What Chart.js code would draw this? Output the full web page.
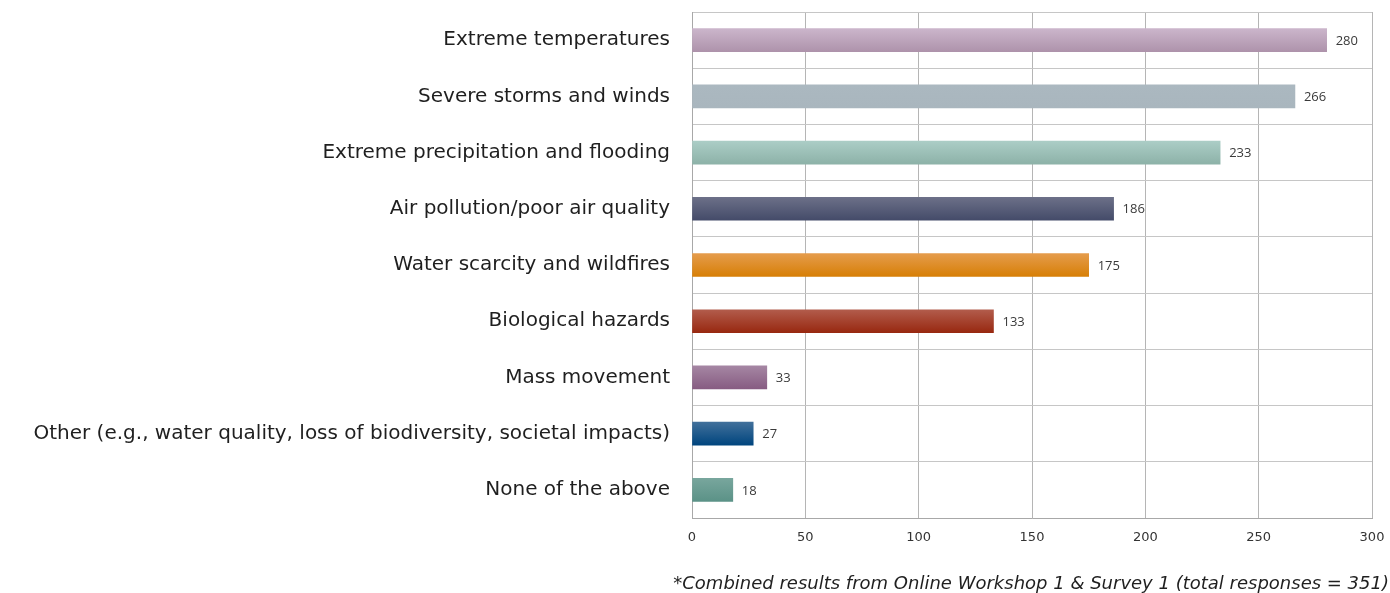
<!DOCTYPE html>
<html>
<head>
<meta charset="utf-8">
<script src="https://cdn.jsdelivr.net/npm/chart.js@4.4.1/dist/chart.umd.min.js"></script>
<style>
html,body{margin:0;padding:0;background:#fff;}
#wrap{width:1390px;height:593px;position:relative;}
</style>
</head>
<body>
<div id="wrap"><canvas id="c" width="1390" height="593"></canvas></div>
<script>
const categories = [
  "Extreme temperatures",
  "Severe storms and winds",
  "Extreme precipitation and flooding",
  "Air pollution/poor air quality",
  "Water scarcity and wildfires",
  "Biological hazards",
  "Mass movement",
  "Other (e.g., water quality, loss of biodiversity, societal impacts)",
  "None of the above"
];
const responses = [280, 266, 233, 186, 175, 133, 33, 27, 18];
const xTicks = [0, 50, 100, 150, 200, 250, 300];
const footnote = "*Combined results from Online Workshop 1 & Survey 1 (total responses = 351)";
const barTop = ["#cbb5cb","#abb8c0","#abcdc6","#6c7088","#e59c4c","#b25c4c","#a586a3","#41709b","#78a69d"];
const barBottom = ["#ae93ab","#a9b6be","#8db2a8","#444b69","#d77f06","#982810","#875c82","#00457e","#5b9287"];

const valueLabels = {
  id: 'valueLabels',
  afterDatasetsDraw(chart) {
    const ctx = chart.ctx;
    const meta = chart.getDatasetMeta(0);
    ctx.save();
    ctx.font = '13px "Open Sans"';
    ctx.fillStyle = '#3a3a3a';
    ctx.textAlign = 'left';
    ctx.textBaseline = 'middle';
    meta.data.forEach((el, i) => {
      ctx.fillText(String(responses[i]), el.x + 9, el.y + 1);
    });
    ctx.restore();
  }
};

const footnotePlugin = {
  id: 'footnote',
  afterDraw(chart) {
    const ctx = chart.ctx;
    ctx.save();
    ctx.font = 'italic 18px "DejaVu Sans"';
    ctx.fillStyle = '#1f1f1f';
    ctx.textAlign = 'right';
    ctx.textBaseline = 'alphabetic';
    ctx.fillText(footnote, chart.width - 1, chart.height - 4);
    ctx.restore();
  }
};

const chart = new Chart(document.getElementById('c'), {
  type: 'bar',
  data: {
    labels: categories,
    datasets: [{
      data: responses,
      barThickness: 23,
      borderWidth: 0,
      backgroundColor: (c) => {
        const ch = c.chart;
        const ys = ch.scales && ch.scales.y;
        if (!ys || !ch.chartArea) return barTop[c.dataIndex];
        const y = ys.getPixelForValue(c.dataIndex);
        const g = ch.ctx.createLinearGradient(0, y - 11.5, 0, y + 11.5);
        g.addColorStop(0, barTop[c.dataIndex]);
        g.addColorStop(1, barBottom[c.dataIndex]);
        return g;
      }
    }]
  },
  options: {
    indexAxis: 'y',
    responsive: false,
    animation: false,
    devicePixelRatio: 1,
    layout: { padding: { top: 12, right: 18, left: 0, bottom: 45 } },
    plugins: {
      legend: { display: false },
      tooltip: { enabled: false },
      title: { display: false }
    },
    scales: {
      x: {
        min: 0, max: 300,
        afterBuildTicks: (s) => { s.ticks = xTicks.map(v => ({ value: v })); },
        afterFit: (s) => { s.paddingLeft = 0; s.paddingRight = 0; s.height = 30; },
        grid: { color: '#b5b5b5', drawTicks: false, lineWidth: 1 },
        border: { color: '#a8a8a8' },
        ticks: { color: '#333', font: { family: 'DejaVu Sans', size: 13 }, padding: 12 }
      },
      y: {
        grid: { color: '#c6c6c6', drawTicks: false, offset: true },
        border: { color: '#a8a8a8' },
        afterFit: (s) => { s.width = 692; s.paddingTop = 0; s.paddingBottom = 0; },
        ticks: { color: '#1f1f1f', font: { family: 'DejaVu Sans', size: 20 }, padding: 22 }
      }
    }
  },
  plugins: [valueLabels, footnotePlugin]
});
</script>
</body>
</html>
